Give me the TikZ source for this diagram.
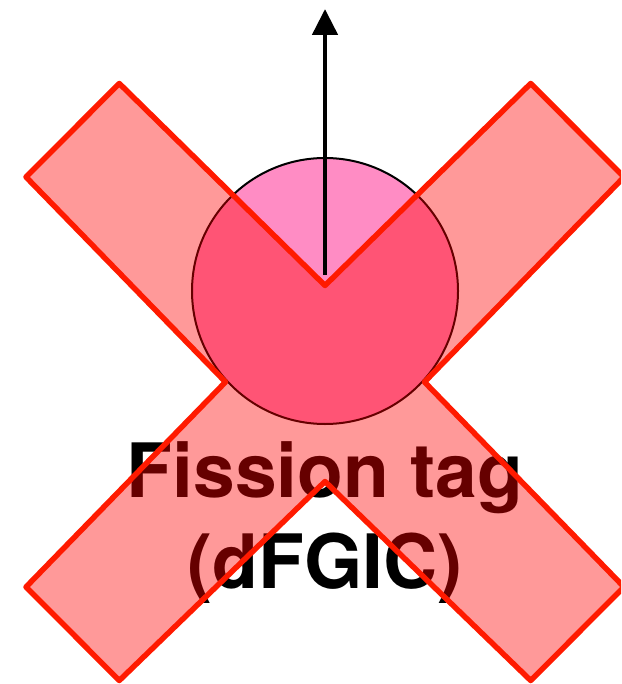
\documentclass[tikz,border=0pt]{standalone}
\usepackage{fontspec}
\setmainfont{TeX Gyre Heros}
\usetikzlibrary{arrows.meta}
\definecolor{tagpink}{RGB}{255,140,196}
\definecolor{xred}{RGB}{255,26,0}
\definecolor{xfill}{RGB}{255,0,0}
\tikzset{
  tagcircle/.style={circle, draw=black, line width=2pt, fill=tagpink, minimum size=266pt, inner sep=0pt},
  uparrow/.style={line width=4.8pt, -{Triangle[length=26pt,width=25pt]}},
  tagtext/.style={font=\fontsize{75}{91}\selectfont\bfseries, inner sep=0pt, anchor=base},
  crossmark/.style={draw=xred, line width=5.5pt, line join=round, fill=xfill, fill opacity=0.4}
}
\begin{document}
\begin{tikzpicture}[x=1pt,y=-1pt]
\useasboundingbox (0,0) rectangle (621,684);
\clip (0,0) rectangle (621,684);
\node[tagcircle] (circ) at (325,291) {};
\coordinate (abase) at (325,275);
\coordinate (atip) at (325,9);
\draw[uparrow] (abase) -- (atip);
\node[tagtext] (l1) at (325,497) {Fission tag};
\node[tagtext] (l2) at (325,588) {(dFGIC)};
\draw[crossmark] (119.3,83.5) -- (26,177) -- (225.5,382) -- (26,587) -- (119.3,680.5)
  -- (325,481.5) -- (530.7,680.5) -- (624,587) -- (424.5,382) -- (624,177)
  -- (530.7,83.5) -- (325,285.5) -- cycle;
\end{tikzpicture}
\end{document}
